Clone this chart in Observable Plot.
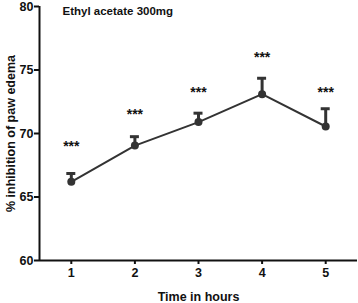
<!DOCTYPE html>
<html><head><meta charset="utf-8">
<script src="https://cdn.jsdelivr.net/npm/d3@7"></script>
<script src="https://cdn.jsdelivr.net/npm/@observablehq/plot@0.6"></script>
<style>
body{margin:0;background:#fff;}
svg{font-family:"Liberation Sans",Arial,sans-serif;}
</style>
</head><body>
<div id="chart"></div>
<script>
const hours = [1, 2, 3, 4, 5];
const inhibition = [66.2, 69.05, 70.9, 73.1, 70.55];
const errorUpper = [66.85, 69.75, 71.6, 74.35, 71.95];
const starY = [69.0, 71.5, 73.25, 75.95, 73.25];
const starLabels = ["***", "***", "***", "***", "***"];
const yTicks = [60, 65, 70, 75, 80];
const xTicks = [1, 2, 3, 4, 5];
const title = "Ethyl acetate 300mg";

const data = hours.map((h, i) => ({h, v: inhibition[i], hi: errorUpper[i], s: starY[i], lab: starLabels[i]}));
const ink = "#333";

const chart = Plot.plot({
  width: 358, height: 303,
  marginLeft: 39, marginRight: 1, marginTop: 6, marginBottom: 43,
  style: {fontFamily: '"Liberation Sans", Arial, sans-serif', background: "#fff"},
  x: {type: "linear", domain: [0.5, 5.5]},
  y: {type: "linear", domain: [60, 80]},
  marks: [
    Plot.axisY({ticks: yTicks, tickSize: 5, tickPadding: 1, fontSize: 12.5, fontWeight: "bold", stroke: "#111", strokeWidth: 2, fill: "#111",
      label: "% inhibition of paw edema", labelAnchor: "center", labelArrow: "none", labelOffset: 33}),
    Plot.axisX({ticks: xTicks, tickFormat: "d", tickSize: 4, tickPadding: 4, fontSize: 12.5, fontWeight: "bold", stroke: "#111", strokeWidth: 2, fill: "#111",
      label: "Time in hours", labelAnchor: "center", labelArrow: "none", labelOffset: 40}),
    Plot.ruleY([60], {stroke: "#111", strokeWidth: 2}),
    Plot.ruleX([0.5], {stroke: "#111", strokeWidth: 2}),
    Plot.ruleX(data, {x: "h", y1: "v", y2: "hi", stroke: ink, strokeWidth: 3}),
    Plot.ruleY(data, {x1: "h", x2: "h", y: "hi", stroke: ink, strokeWidth: 3, insetLeft: -4.5, insetRight: -4.5}),
    Plot.line(data, {x: "h", y: "v", stroke: ink, strokeWidth: 2}),
    Plot.dot(data, {x: "h", y: "v", r: 4, fill: ink, stroke: "none"}),
    Plot.text(data, {x: "h", y: "s", text: "lab", fontSize: 14, fontWeight: "bold", fill: "#111"}),
    Plot.text([title], {frameAnchor: "top-left", dx: 23, dy: 0, fontSize: 11.5, fontWeight: "bold", fill: "#111"})
  ]
});
document.getElementById("chart").appendChild(chart);

d3.select(chart).selectAll("g[aria-label='y-axis label'] text, g[aria-label='x-axis label'] text")
  .attr("font-weight", "bold").attr("font-size", 12.5).attr("fill", "#111");
</script>
</body></html>
